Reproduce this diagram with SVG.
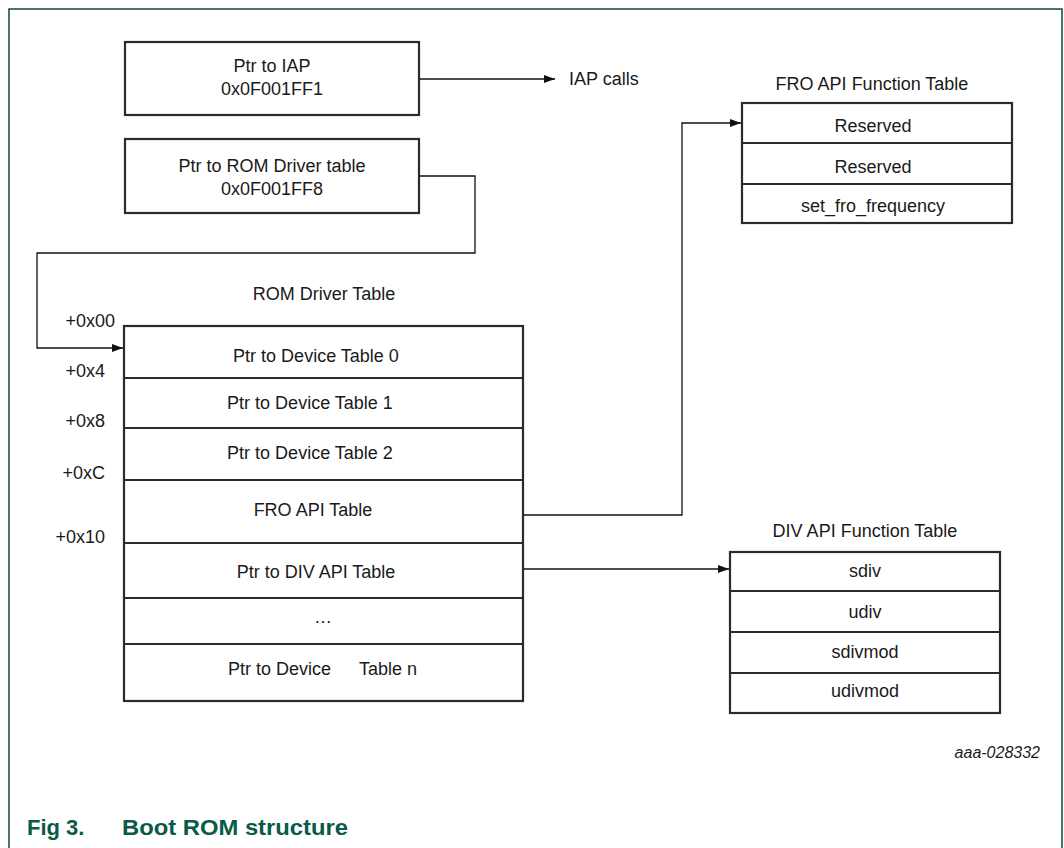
<svg xmlns="http://www.w3.org/2000/svg" width="1064" height="848" viewBox="0 0 1064 848">
<defs>
<style>
.t{font-family:"Liberation Sans",Arial,sans-serif;font-size:18px;fill:#1a1a1a}
.c{text-anchor:middle}
.r{text-anchor:end}
.box{fill:#fff;stroke:#2b2b2b;stroke-width:2.2}
.row{stroke:#2b2b2b;stroke-width:2.2;fill:none}
.conn{fill:none;stroke:#111;stroke-width:1.3}
</style>
<marker id="ah" markerWidth="12" markerHeight="8" refX="11" refY="4" orient="auto" markerUnits="userSpaceOnUse">
<path d="M0,0 L11,4 L0,8 Z" fill="#111"/>
</marker>
</defs>
<rect width="1064" height="848" fill="#fff"/>
<path d="M9,848 V9 H1062 V848" fill="none" stroke="#0b4a3a" stroke-width="1.5"/>

<g id="connectors">
<path class="conn" d="M419,79 H555" marker-end="url(#ah)"/>
<path class="conn" d="M419,176 H475 V253 H37 V348 H123" marker-end="url(#ah)"/>
<path class="conn" d="M523,515 H682 V123 H741" marker-end="url(#ah)"/>
<path class="conn" d="M523,569 H729" marker-end="url(#ah)"/>
</g>

<g id="iap-ptr">
<rect class="box" x="125" y="42" width="294" height="73"/>
<text class="t c" x="272" y="72">Ptr to IAP</text>
<text class="t c" x="272" y="95">0x0F001FF1</text>
</g>
<g id="iap-calls">
<text class="t" x="569" y="85">IAP calls</text>
</g>

<g id="rom-ptr">
<rect class="box" x="125" y="139" width="294" height="74"/>
<text class="t c" x="272" y="172">Ptr to ROM Driver table</text>
<text class="t c" x="272" y="195">0x0F001FF8</text>
</g>

<g id="rom-driver-table">
<text class="t c" x="324" y="300">ROM Driver Table</text>
<text class="t r" x="115" y="327">+0x00</text>
<text class="t r" x="105" y="377">+0x4</text>
<text class="t r" x="105" y="427">+0x8</text>
<text class="t r" x="105" y="479">+0xC</text>
<text class="t r" x="105" y="543">+0x10</text>
<rect class="box" x="124" y="326" width="399" height="375"/>
<path class="row" d="M124,378 H523 M124,428 H523 M124,480 H523 M124,543 H523 M124,598 H523 M124,644 H523"/>
<text class="t c" x="316" y="362">Ptr to Device Table 0</text>
<text class="t c" x="310" y="409">Ptr to Device Table 1</text>
<text class="t c" x="310" y="459">Ptr to Device Table 2</text>
<text class="t c" x="313" y="516">FRO API Table</text>
<text class="t c" x="316" y="578">Ptr to DIV API Table</text>
<text class="t c" x="323" y="623">…</text>
<text class="t" x="228" y="675">Ptr to Device</text>
<text class="t" x="359" y="675">Table n</text>
</g>

<g id="fro-function-table">
<text class="t c" x="872" y="90">FRO API Function Table</text>
<rect class="box" x="742" y="103" width="270" height="120"/>
<path class="row" d="M742,143 H1012 M742,184 H1012"/>
<text class="t c" x="873" y="132">Reserved</text>
<text class="t c" x="873" y="173">Reserved</text>
<text class="t c" x="873" y="212">set_fro_frequency</text>
</g>

<g id="div-function-table">
<text class="t c" x="865" y="537">DIV API Function Table</text>
<rect class="box" x="730" y="552" width="270" height="161"/>
<path class="row" d="M730,591 H1000 M730,632 H1000 M730,673 H1000"/>
<text class="t c" x="865" y="577">sdiv</text>
<text class="t c" x="865" y="618">udiv</text>
<text class="t c" x="865" y="658">sdivmod</text>
<text class="t c" x="865" y="697">udivmod</text>
</g>

<text class="t r" x="1040" y="758" style="font-size:16px;font-style:italic">aaa-028332</text>
<text x="27" y="835" style="font-family:'Liberation Sans',Arial,sans-serif;font-size:22px;font-weight:bold;fill:#0a5a48">Fig 3.</text>
<text x="122" y="835" style="font-family:'Liberation Sans',Arial,sans-serif;font-size:22px;font-weight:bold;fill:#0a5a48" textLength="226" lengthAdjust="spacingAndGlyphs">Boot ROM structure</text>
</svg>
